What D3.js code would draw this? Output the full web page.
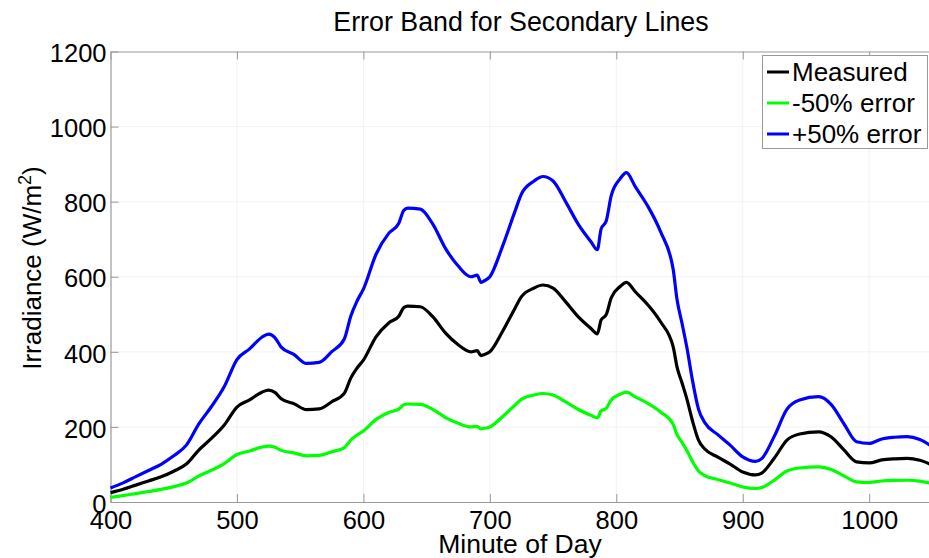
<!DOCTYPE html>
<html><head><meta charset="utf-8">
<script src="https://cdn.jsdelivr.net/npm/d3@7"></script>
<style>body{margin:0;background:#fff}svg{display:block;font-family:"Liberation Sans",Arial,sans-serif}</style>
</head><body><svg id="c" width="929" height="558"></svg>
<script>
const minutes = [400,410,420,430,440,450,460,470,480,490,500,510,520,525,530,535,545,555,565,575,585,590,595,600,610,620,628,632,635,645,655,665,675,685,690,693,695,700,710,720,725,735,742,750,760,770,780,785,788,792,796,803,808,815,825,835,845,848,852,856,860,865,870,880,890,900,910,915,925,935,945,960,970,980,990,1000,1010,1020,1030,1040,1050];
const measured = [25,34,45,56,67,82,101,139,170,205,253,272,293,298,292,275,262,246,248,267,290,330,357,378,440,477,495,518,522,520,493,450,419,400,403,390,392,400,454,517,547,570,578,570,533,493,462,448,485,499,544,574,585,560,525,480,413,360,317,272,219,165,141,120,101,80,72,77,117,165,181,187,173,139,107,104,112,115,116,111,98];
const minus50 = [12.5,17,22.5,28,33.5,41,50.5,69.5,85,102.5,126.5,136,146.5,149,146,137.5,131,123,124,133.5,145,165,178.5,189,220,238.5,247.5,259,261,260,246.5,225,209.5,200,201.5,195,196,200,227,258.5,273.5,285,289,285,266.5,246.5,231,224,242.5,249.5,272,287,292.5,280,262.5,240,206.5,180,158.5,136,109.5,82.5,70.5,60,50.5,40,36,38.5,58.5,82.5,90.5,93.5,86.5,69.5,53.5,52,56,57.5,58,55.5,49];
const plus50 = [37.5,51,67.5,84,100.5,123,151.5,208.5,255,307.5,379.5,408,439.5,447,438,412.5,393,369,372,400.5,435,495,535.5,567,660,715.5,742.5,777,783,780,739.5,675,628.5,600,604.5,585,588,600,681,775.5,820.5,855,867,855,799.5,739.5,693,672,727.5,748.5,816,861,877.5,840,787.5,720,619.5,540,475.5,408,328.5,247.5,211.5,180,151.5,120,108,115.5,175.5,247.5,271.5,280.5,259.5,208.5,160.5,156,168,172.5,174,166.5,147];
const xTicks = [400,500,600,700,800,900,1000];
const yTicks = [0,200,400,600,800,1000,1200];
const seriesNames = ["Measured","-50% error","+50% error"];
const seriesColors = ["#000000","#00ff00","#0000ff"];

const svg = d3.select("#c");
const L = 110.5, T = 51.5, B = 502;
const x = d3.scaleLinear().domain([400,1050]).range([L, L + 650*1.2645]);
const y = d3.scaleLinear().domain([0,1200]).range([B, T]);
const R = x(1050);
const fmt = d3.format("d");

// grid
const g = svg.append("g");
g.selectAll(".gx").data(xTicks.slice(1)).join("line")
  .attr("x1", d=>x(d)).attr("x2", d=>x(d)).attr("y1", T).attr("y2", B)
  .attr("stroke","#e6e6e6").attr("stroke-width",1).attr("stroke-dasharray","1,1");
g.selectAll(".gy").data(yTicks.slice(1,-1)).join("line")
  .attr("x1", L).attr("x2", R).attr("y1", d=>y(d)).attr("y2", d=>y(d))
  .attr("stroke","#e6e6e6").attr("stroke-width",1).attr("stroke-dasharray","1,1");

// axes
const axisColor = "#999";
const xb = svg.append("g").attr("transform",`translate(0,${B})`)
  .call(d3.axisBottom(x).tickValues(xTicks).tickFormat(fmt).tickSizeInner(-8).tickSizeOuter(0).tickPadding(14));
const xt = svg.append("g").attr("transform",`translate(0,${T})`)
  .call(d3.axisTop(x).tickValues(xTicks).tickSizeInner(-8).tickSizeOuter(0).tickFormat(""));
const yl = svg.append("g").attr("transform",`translate(${L},0)`)
  .call(d3.axisLeft(y).tickValues(yTicks).tickFormat(fmt).tickSizeInner(-8).tickSizeOuter(0).tickPadding(4));
[xb,xt,yl].forEach(a=>{
  a.select(".domain").attr("stroke",axisColor).attr("stroke-width",1.2);
  a.selectAll(".tick line").attr("stroke",axisColor);
  a.selectAll("text").attr("fill","#000").style("font-size","25.5px").style("font-family","'Liberation Sans',Arial,sans-serif");
});
xb.selectAll("text").attr("y",27).attr("dy",null);
yl.selectAll("text").attr("dy","0.4em");

// lines
const line = d3.line().x((d,i)=>x(minutes[i])).y(d=>y(d)).curve(d3.curveMonotoneX);
[measured, minus50, plus50].forEach((s,k)=>{
  svg.append("path").datum(s).attr("d", line).attr("fill","none")
    .attr("stroke", seriesColors[k]).attr("stroke-width",3.2).attr("stroke-linejoin","round");
});

// title & labels
svg.append("text").attr("x",521).attr("y",31).attr("text-anchor","middle")
  .style("font-size","26.8px").text("Error Band for Secondary Lines");
svg.append("text").attr("x",520).attr("y",553).attr("text-anchor","middle")
  .style("font-size","26.5px").text("Minute of Day");
const yt = svg.append("text").attr("transform","translate(41,268) rotate(-90)").attr("text-anchor","middle")
  .style("font-size","26px");
yt.append("tspan").text("Irradiance (W/m");
yt.append("tspan").attr("dy","-10").style("font-size","18px").text("2");
yt.append("tspan").attr("dy","10").text(")");

// legend
const lg = svg.append("g");
lg.append("rect").attr("x",762.5).attr("y",55.5).attr("width",165).attr("height",93)
  .attr("fill","#fff").attr("stroke",axisColor).attr("stroke-width",1);
seriesNames.forEach((n,i)=>{
  const yy = 72 + i*31;
  lg.append("line").attr("x1",767).attr("x2",789).attr("y1",yy).attr("y2",yy)
    .attr("stroke",seriesColors[i]).attr("stroke-width",3);
  lg.append("text").attr("x",792).attr("y",yy+9).style("font-size","26px").text(n);
});
</script></body></html>
